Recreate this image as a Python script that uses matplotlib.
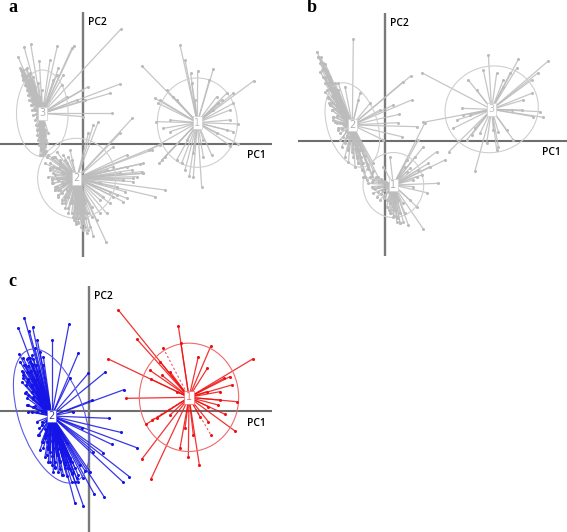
import matplotlib
matplotlib.use("Agg")
import matplotlib.pyplot as plt
from matplotlib.patches import Ellipse
import numpy as np

W, H = 567, 532
GREY, GREY_E = "#bcbcbc", "#cfcfcf"
RED, BLUE = "#f01010", "#1414e6"

# readings: (x, y) per cluster; scores are taken relative to the panel's origin
a1_x = [425,540,555,572,593,640,628,762,700,680,650,665,700,690,715,690,700,680,650,715,690,635,605,580,568,555,545,530,478,485,495,448,468,465,475,500,520,510,490,510,480,530,560,580,610,575,585,640,655,610]
a1_y = [197,135,180,220,212,207,240,242,280,280,290,300,310,330,372,360,395,390,400,432,437,465,560,530,528,510,490,480,490,480,470,450,365,295,310,270,290,360,385,395,300,300,420,460,470,250,300,330,310,420]
a2_x = [397,360,295,280,265,380,430,428,425,495,465,380,370,340,320,318,280,270,260,250,235,228,410,350,300,300,480,455,340,400,375,330,290,275,250,240,225,215,205,195,185,175,165,155,145,135,150,160,170,180,190,200,210,175,185,195,205,215,220,230,240,250,255,265,275,160,170,180,190,200,210,225,235,245,140,155,165,185,200]
a2_y = [355,400,365,375,400,465,490,520,515,570,590,595,605,590,640,725,708,680,700,670,670,665,530,560,600,640,435,450,440,545,575,610,660,650,690,640,620,610,590,600,580,570,560,550,530,490,505,520,535,480,465,490,450,590,610,625,640,600,650,655,610,640,610,640,620,470,455,500,520,545,565,580,560,590,470,540,570,550,570]
a2_dense_x = [150,160,150,165,155,160,170,165,175,185,195,205,215,225,235,245,250,240,225,210,195,180,190,175,200,185,170,180,195,205,215,165,155,145,235,245,255,250,240,225,420,395,380,430,400,360,370,340,320,300,330,350,310,245,255,265,232,238,228,222,250,256,248,242,236,252,258,244]
a2_dense_y = [490,500,510,525,535,550,560,570,585,600,610,625,640,655,665,660,650,640,625,610,590,570,555,540,530,520,505,490,480,470,480,470,475,465,600,620,600,580,575,590,492,510,500,520,535,520,540,500,510,550,575,585,590,670,680,690,640,655,672,660,665,655,630,615,598,625,640,680]
a3_x = [55,72,92,118,172,222,215,175,190,362,360,265,245,330,335,255,230,200,250,60,65,70,75,80,70,85,90,85,95,100,90,100,105,95,110,115,100,120,105,115,125,110,130,120,135,115,125,135,120,130,140,125,135,145,130,120,160,170,185,150,145]
a3_y = [172,140,132,183,138,137,145,205,225,88,252,260,270,280,340,300,300,290,350,205,215,210,225,205,235,240,220,255,245,230,275,270,260,300,285,250,310,290,330,320,270,350,310,365,340,375,385,395,410,420,430,445,460,400,455,465,240,225,255,180,300]
a3_dense_x = [62,70,78,65,72,80,88,70,78,86,94,75,83,91,99,80,88,96,104,85,93,101,109,88,96,104,112,92,100,108,116,95,103,111,100,108,116,105,113,121,108,116,124,132,110,118,126,134,112,120,128,136,115,123,131,139,118,126,134,122,130,138,125,133]
a3_dense_y = [210,212,208,225,223,227,224,240,238,242,239,255,253,257,254,270,268,272,269,285,283,287,284,300,298,302,299,315,313,317,314,330,328,332,345,343,347,360,358,362,375,373,377,374,390,388,392,389,405,403,407,404,420,418,422,419,435,433,437,450,448,452,465,463]

b1_x = [405,385,440,465,415,445,410,380,400,355,330,300,290,270,250,220,235,280,300,350,380,370,360,345,340,320,310,295,285,275,265,260,250,245,300,310,320,330]
b1_y = [368,420,455,480,490,550,578,620,687,675,670,640,620,600,580,530,550,500,470,480,530,560,600,640,665,650,630,600,585,570,560,590,565,545,610,650,665,640]
b1_dense_x = [240,250,258,266,274,245,255,263,272,282,292,300,308,316,296,304,312,322,330,298,306,314,324,338,345,350,360,370,375,385,395,400,420]
b1_dense_y = [530,540,532,545,538,560,568,575,582,595,600,610,622,630,630,640,648,655,668,575,590,585,600,610,500,515,505,540,470,510,525,440,500]
b2_x = [190,362,340,365,310,328,325,380,335,280,240,270,80,85,95,90,100,105,110,105,115,120,115,125,120,130,135,125,140,130,145,150,135,155,145,160,150,165,155,170,175,165,180,185,175,190,200,195,210,205,215,225,235,245,250,120,130,165,205,210,150,145,185,230]
b2_y = [118,228,245,300,315,343,368,380,410,420,310,330,155,170,190,215,205,235,250,275,225,240,295,265,310,290,280,330,320,350,270,295,365,340,385,320,420,375,440,410,445,470,400,455,485,430,475,500,450,490,510,530,500,520,490,315,360,260,300,280,400,250,395,540]
b2_dense_x = [85,92,90,98,106,95,105,112,100,110,120,105,115,125,135,110,120,130,140,115,125,135,145,118,130,142,150,125,135,145,155,130,142,155,165,140,150,160,170,145,155,168,180,160,170,182,195,165,178,190,205,175,188,200,215,190,200,212,225,205,218,232,220,235,250,225,245,265]
b2_dense_y = [170,172,190,188,192,210,208,212,230,228,232,250,248,252,249,270,268,272,269,290,288,292,289,310,308,312,309,330,328,332,329,350,348,352,349,370,368,372,369,390,388,392,389,410,408,412,409,430,428,432,429,450,448,452,449,470,468,472,469,490,488,492,510,508,512,530,528,532]
b3_x = [395,400,477,555,595,580,535,685,680,775,745,725,725,750,760,730,695,665,620,625,670,650,515,520,490,530,545,555,570,640,660,620,500,610,625,560,540,590,700,640]
b3_y = [218,367,455,513,165,210,240,178,205,183,218,240,280,335,352,350,330,330,450,440,420,390,325,345,385,420,405,385,400,260,220,220,360,390,395,270,345,430,300,240]

c1_x = [355,535,410,543,633,595,622,758,690,672,660,695,710,660,655,675,705,625,600,598,565,580,555,540,453,425,438,510,378,325,450,452,485,480,510,530,470,620,625]
c1_y = [135,183,222,235,242,275,310,282,335,340,380,360,410,405,420,448,498,470,455,600,575,510,490,550,642,583,478,450,400,282,316,342,330,290,320,380,460,380,425]
c1_dash_x = [490,633,455]
c1_dash_y = [250,510,465]
c2_x = [73,55,88,98,112,155,207,235,210,265,315,372,275,327,362,335,410,310,388,370,312,283,250,225,270,255,230,190,165,145,120,115,80,75,65,65,58,85,105,130,110,95,100,85,220,245,280,240,210,180,150,205,140,125,100,90,75,80,120,130,90,100,85,130,135,160,175,195,220,250,70,60,95,105,115,125,110,120,135,145,155,170,185,200,215,225]
c2_y = [158,188,197,187,225,225,178,265,340,325,322,374,406,460,502,538,548,563,635,652,695,688,722,715,620,618,640,630,605,590,555,510,420,385,350,318,268,280,250,300,330,360,425,440,440,490,560,600,580,590,560,610,510,480,300,320,300,350,260,275,290,395,390,530,575,620,620,600,620,640,330,290,270,345,400,440,370,415,520,545,600,570,560,535,590,650]
c2_dense_x = [70,80,90,100,72,85,95,108,70,82,92,105,118,70,85,98,112,78,92,105,120,78,95,110,125,82,100,115,130,85,105,120,95,110,125,110,125,140,118,135,150,118,135,150,165,125,140,155,170,185,130,145,160,175,190,140,155,170,185,200,150,165,180,195,210,165,180,195,210,225,185,200,215,235,215,235]
c2_dense_y = [280,282,278,281,300,302,298,301,320,322,318,321,319,340,342,338,341,360,362,358,361,380,382,378,381,400,402,398,401,420,422,418,440,442,438,470,472,468,490,492,488,510,512,508,511,530,532,528,531,529,550,552,548,551,549,570,572,568,571,569,590,592,588,591,589,610,612,608,611,609,630,632,628,631,650,652]

a_centres = [("1", 592, 368), ("2", 230, 535), ("3", 127, 340)]
b_centres = [("1", 310, 555), ("2", 187, 375), ("3", 605, 328)]
c_centres = [("1", 567, 397), ("2", 155, 453)]

fig = plt.figure(figsize=(W / 100, H / 100), dpi=100, facecolor="white")


def panel(px_left, px_top, span_x, span_y, ox, oy):
    """span_x / span_y are reading ranges of the panel's axes, at 3 readings per pixel."""
    x0, x1 = span_x
    y0, y1 = span_y
    left = (px_left + x0 / 3) / W
    bottom = 1 - (px_top + y1 / 3) / H
    ax = fig.add_axes([left, bottom, (x1 - x0) / 3 / W, (y1 - y0) / 3 / H])
    ax.set_xlim(x0 - ox, x1 - ox)
    ax.set_ylim(oy - y1, oy - y0)
    ax.axis("off")
    ax.axhline(0, color="#6e6e6e", lw=1.5, zorder=1)
    ax.axvline(0, color="#7a7a7a", lw=1.7, zorder=1)
    return ax


def cluster(ax, ox, oy, xs, ys, centre, color, ell, ell_color, tcolor, dash=None):
    name, cx, cy = centre
    c1, c2 = cx - ox, oy - cy
    p1, p2 = np.array(xs) - ox, oy - np.array(ys)
    for u, v in zip(p1, p2):
        ax.plot([c1, u], [c2, v], color=color, lw=0.9, alpha=0.85, zorder=2, solid_capstyle="butt")
    ax.plot(p1, p2, "o", color=color, ms=2.2, mew=0, zorder=3)
    if dash is not None:
        for u, v in zip(np.array(dash[0]) - ox, oy - np.array(dash[1])):
            ax.plot([c1, u], [c2, v], color=color, lw=0.8, ls=(0, (2, 2)), alpha=0.7, zorder=2)
            ax.plot([u], [v], "o", color=color, ms=2.2, mew=0, zorder=3)
    w, h, ang = ell
    ax.add_patch(Ellipse((c1, c2), w, h, angle=ang, fill=False, ec=ell_color, lw=0.8, zorder=2.5))
    ax.text(c1, c2, name, ha="center", va="center", fontsize=7, color=tcolor, zorder=5,
            family="DejaVu Sans",
            bbox=dict(boxstyle="square,pad=0.15", fc="white", ec=ell_color, lw=0.5))


def labels(ax, ox, oy, pc1_xy, pc2_xy):
    for t, (x, y) in (("PC1", pc1_xy), ("PC2", pc2_xy)):
        ax.text(x - ox, oy - y, t, fontsize=7.4, family="Open Sans", color="black",
                ha="left", va="center", fontweight="semibold", zorder=6)


# panel a
ox, oy = 250, 432
ax = panel(0, 0, (0, 815), (35, 770), ox, oy)
cluster(ax, ox, oy, a1_x, a1_y, a_centres[0], GREY, (240, 268, 0), GREY_E, "#c0c0c0")
cluster(ax, ox, oy, a2_x + a2_dense_x, a2_y + a2_dense_y, a_centres[1], GREY, (234, 240, 0), GREY_E, "#b0b0b0")
cluster(ax, ox, oy, a3_x + a3_dense_x, a3_y + a3_dense_y, a_centres[2], GREY, (155, 260, 0), GREY_E, "#b0b0b0")
labels(ax, ox, oy, (742, 467), (264, 67))

# panel b
ox, oy = 285, 423
ax = panel(290, 0, (25, 830), (40, 768), ox, oy)
cluster(ax, ox, oy, b1_x + b1_dense_x, b1_y + b1_dense_y, b_centres[0], GREY, (182, 195, 0), GREY_E, "#b0b0b0")
cluster(ax, ox, oy, b2_x + b2_dense_x, b2_y + b2_dense_y, b_centres[1], GREY, (150, 262, 18), GREY_E, "#b0b0b0")
cluster(ax, ox, oy, b3_x, b3_y, b_centres[2], GREY, (282, 258, 18), GREY_E, "#c0c0c0")
labels(ax, ox, oy, (757, 458), (301, 72))

# panel c
ox, oy = 267, 438
ax = panel(0, 265, (0, 815), (62, 800), ox, oy)
cluster(ax, ox, oy, c1_x, c1_y, c_centres[0], RED, (298, 325, 0), "#f06a6a", "#f07070",
        dash=(c1_dash_x, c1_dash_y))
cluster(ax, ox, oy, c2_x + c2_dense_x, c2_y + c2_dense_y, c_centres[1], BLUE, (195, 420, 19), "#5a5ae8", "#3a3a90")
labels(ax, ox, oy, (740, 476), (283, 95))

for t, x, y in (("a", 8, 7), ("b", 307, 8), ("c", 8, 281)):
    fig.text(x / W, 1 - y / H, t, family="Liberation Serif", fontweight="bold",
             fontsize=13, ha="left", va="center", color="black")

fig.savefig("out.png", dpi=100)
